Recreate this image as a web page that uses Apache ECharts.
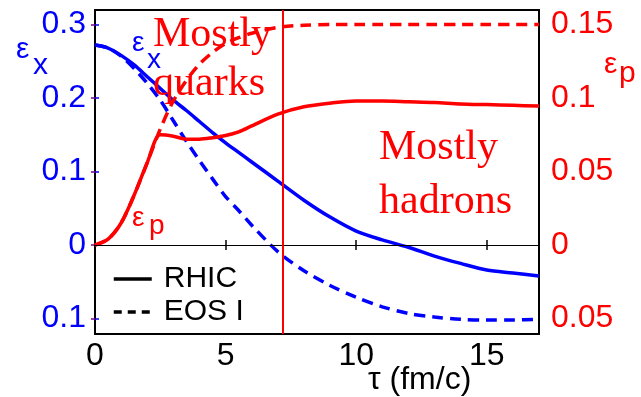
<!DOCTYPE html>
<html>
<head>
<meta charset="utf-8">
<title>Elliptic flow anisotropies</title>
<script src="https://cdn.jsdelivr.net/npm/echarts@6/dist/echarts.min.js"></script>
<style>
  html, body { margin: 0; padding: 0; background: #fff; }
  #chart { width: 641px; height: 397px; }
</style>
</head>
<body>
<div id="chart"></div>
<script>
// Proper time tau (fm/c) sample points shared by all curves
var tau = [0, 0.5, 1, 1.5, 2, 2.5, 3, 3.5, 4, 4.5, 5, 5.5, 6, 7, 8, 9, 10, 11, 12, 13, 14, 15, 16, 17];

// Spatial eccentricity eps_x (left axis)
var epsXRhic = [0.272, 0.268, 0.258, 0.245, 0.229, 0.213, 0.197, 0.183, 0.168, 0.153, 0.139, 0.126, 0.113,
                0.087, 0.061, 0.038, 0.019, 0.007, -0.003, -0.015, -0.025, -0.034, -0.038, -0.042];
var epsXEos1 = [0.272, 0.268, 0.257, 0.240, 0.220, 0.197, 0.169, 0.141, 0.115, 0.090, 0.066, 0.047, 0.027,
                -0.009, -0.035, -0.055, -0.071, -0.084, -0.093, -0.098, -0.101, -0.102, -0.102, -0.101];

// Momentum anisotropy eps_p (right axis)
var epsPRhic = [0, 0.004, 0.015, 0.034, 0.056, 0.075, 0.074, 0.072, 0.072, 0.073, 0.0745, 0.077, 0.081,
                0.089, 0.094, 0.0965, 0.098, 0.098, 0.0975, 0.097, 0.096, 0.0955, 0.095, 0.0945];
var epsPEos1 = [0, 0.004, 0.015, 0.034, 0.056, 0.079, 0.098, 0.112, 0.123, 0.131, 0.137, 0.141, 0.144,
                0.148, 0.1495, 0.150, 0.150, 0.150, 0.150, 0.150, 0.150, 0.150, 0.150, 0.150];

// Tick positions
var xTicks = [0, 5, 10, 15];
var leftTicks = [-0.1, 0, 0.1, 0.2, 0.3];
var rightTicks = [-0.05, 0, 0.05, 0.1, 0.15];

// Time of the transition marker (fm/c)
var transitionTau = 7.2;

var SANS = '"Liberation Sans", Arial, Helvetica, sans-serif';
var SERIF = '"Liberation Serif", "Times New Roman", serif';
var BLUE = '#0000ff';
var RED = '#ff0000';

function pairs(xs, ys) {
  return xs.map(function (x, i) { return [x, ys[i]]; });
}
function absLabel(v) {
  return String(Math.abs(Math.round(v * 1000) / 1000));
}
function txt(text, x, y, size, color, family) {
  return {
    type: 'text', left: x, top: y, z: 100,
    style: { text: text, fill: color, font: size + 'px ' + family }
  };
}

var chart = echarts.init(document.getElementById('chart'), null, { renderer: 'canvas' });

chart.setOption({
  animation: false,
  backgroundColor: '#fff',
  grid: {
    left: 95, right: 102, top: 10, bottom: 63,
    show: true, borderColor: '#000', borderWidth: 2, backgroundColor: 'transparent'
  },
  legend: {
    data: ['RHIC', 'EOS I'],
    orient: 'vertical', left: 107, top: 259,
    itemWidth: 38, itemHeight: 30, itemGap: 3,
    selectedMode: false,
    itemStyle: { color: 'rgba(0,0,0,0)', borderWidth: 0, opacity: 0 },
    lineStyle: { width: 3.5 },
    textStyle: { fontSize: 30, color: '#000', fontFamily: SANS, padding: [0, 0, 0, 7] }
  },
  xAxis: [{
    type: 'value', min: 0, max: 17, position: 'bottom',
    axisLine: { show: false },
    splitLine: { show: false },
    axisTick: { inside: true, length: 5, customValues: xTicks, lineStyle: { color: '#000', width: 1.5 } },
    axisLabel: { customValues: xTicks, margin: 6, fontSize: 32, color: '#000', fontFamily: SANS }
  }, {
    type: 'value', min: 0, max: 17, position: 'top',
    axisLine: { show: false },
    splitLine: { show: false },
    axisTick: { inside: true, length: 5, customValues: xTicks, lineStyle: { color: '#000', width: 1.5 } },
    axisLabel: { show: false }
  }],
  yAxis: [{
    type: 'value', min: -0.121, max: 0.3197, position: 'left',
    axisLine: { show: false },
    splitLine: { show: false },
    axisTick: { inside: true, length: 4, customValues: leftTicks, lineStyle: { color: BLUE, width: 1.5 } },
    axisLabel: { customValues: leftTicks, margin: 9, fontSize: 32, color: BLUE, fontFamily: SANS, formatter: absLabel }
  }, {
    type: 'value', min: -0.0605, max: 0.15985, position: 'right',
    axisLine: { show: false },
    splitLine: { show: false },
    axisTick: { inside: true, length: 4, customValues: rightTicks, lineStyle: { color: '#800080', width: 1.5 } },
    axisLabel: { customValues: rightTicks, margin: 12, fontSize: 32, color: RED, fontFamily: SANS, formatter: absLabel }
  }],
  series: [
    {
      name: 'zero', type: 'line', data: [], silent: true, z: 1,
      markLine: {
        silent: true, symbol: 'none', label: { show: false },
        lineStyle: { color: '#000', width: 1, type: 'solid' },
        data: [{ yAxis: 0 }]
      }
    },
    {
      name: 'εx RHIC', type: 'line', yAxisIndex: 0, smooth: 0.3, symbol: 'none', z: 3,
      lineStyle: { color: BLUE, width: 3.5 },
      data: pairs(tau, epsXRhic)
    },
    {
      name: 'εx EOS I', type: 'line', yAxisIndex: 0, smooth: 0.3, symbol: 'none', z: 3,
      lineStyle: { color: BLUE, width: 3.5, type: [11, 7] },
      data: pairs(tau, epsXEos1)
    },
    {
      name: 'εp RHIC', type: 'line', yAxisIndex: 1, smooth: 0.3, symbol: 'none', z: 4,
      lineStyle: { color: RED, width: 3.5 },
      data: pairs(tau, epsPRhic)
    },
    {
      name: 'εp EOS I', type: 'line', yAxisIndex: 1, smooth: 0.3, symbol: 'none', z: 4,
      lineStyle: { color: RED, width: 3.5, type: [11, 7] },
      data: pairs(tau, epsPEos1),
      markLine: {
        silent: true, symbol: 'none', label: { show: false },
        lineStyle: { color: RED, width: 2, type: 'solid' },
        data: [{ xAxis: transitionTau }]
      }
    },
    {
      name: 'RHIC', type: 'line', data: [], symbol: 'none',
      itemStyle: { color: '#000' }, lineStyle: { color: '#000', width: 3.5 }
    },
    {
      name: 'EOS I', type: 'line', data: [], symbol: 'none',
      itemStyle: { color: '#000' }, lineStyle: { color: '#000', width: 3.5, type: [8, 6] }
    }
  ],
  graphic: [
    // axis titles
    txt('ε', 16, 35, 30, BLUE, SANS),
    txt('x', 33, 51, 30, BLUE, SANS),
    txt('ε', 604, 50, 30, RED, SANS),
    txt('p', 619, 59, 30, RED, SANS),
    txt('τ (fm/c)', 368, 364, 32, '#000', SANS),
    // curve labels
    txt('ε', 132, 29, 28, BLUE, SANS),
    txt('x', 147, 46, 28, BLUE, SANS),
    txt('ε', 132, 204, 28, RED, SANS),
    txt('p', 149, 212, 28, RED, SANS),
    // phase annotations
    txt('Mostly', 153, 14, 42, RED, SERIF),
    txt('quarks', 153, 63, 42, RED, SERIF),
    txt('Mostly', 379, 127, 42, RED, SERIF),
    txt('hadrons', 379, 181, 42, RED, SERIF)
  ]
});
</script>
</body>
</html>
